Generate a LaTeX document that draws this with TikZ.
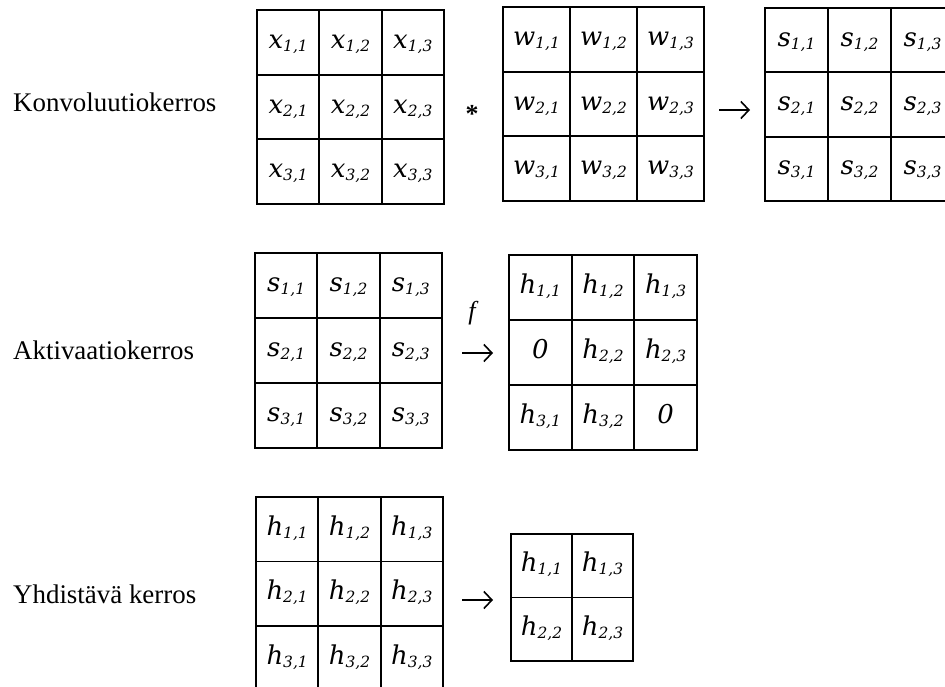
\documentclass[tikz,border=0pt]{standalone}
\usepackage{fontspec}
\setmainfont{Liberation Serif}
\newfontfamily\entryfont{DejaVu Serif}
\usetikzlibrary{arrows.meta}

% matrix entry: italic letter with lowered index pair
\newcommand\entry[3]{{\entryfont\fontsize{26}{26}\selectfont\itshape #1}\raisebox{-3bp}{\entryfont\fontsize{15.5}{15.5}\selectfont\itshape #2,#3}}
\newcommand\zeroentry{{\entryfont\fontsize{26}{26}\selectfont\itshape 0}}

% current grid: name, left, top, cell width, cell height
\newcommand\setgrid[5]{\def\gname{#1}\def\gx{#2}\def\gy{#3}\def\gw{#4}\def\gh{#5}}
\newcommand\cell[3]{\node[cellbox, minimum width=\gw bp, minimum height=\gh bp]
  (\gname-#1-#2) at ({\gx+(#2-0.5)*\gw},{\gy+(#1-0.5)*\gh}) {#3};}

\tikzset{
  cellbox/.style={draw, line width=1.9bp, inner sep=0pt, text height=16bp, text depth=4bp},
  layerlabel/.style={anchor=base west, inner sep=0pt, font=\fontsize{27}{27}\selectfont},
  maparrow/.style={line width=1.6bp, -{Straight Barb[length=8bp,width=17bp,line width=1.6bp]}},
}

\begin{document}
\begin{tikzpicture}[x=1bp,y=-1bp]
\useasboundingbox (0,0) rectangle (945,687);
\clip (0,0) rectangle (945,687);

% layer names
\node[layerlabel] (lconv) at (13,112) {Konvoluutiokerros};
\node[layerlabel] (lact)  at (13,359) {Aktivaatiokerros};
\node[layerlabel] (lpool) at (13,603) {Yhdistävä kerros};

% convolution: input * kernel -> feature map
\setgrid{x}{257}{10}{62.33}{64.67}
\foreach \r in {1,2,3}{\foreach \c in {1,2,3}{\cell{\r}{\c}{\entry{x}{\r}{\c}}}}
\setgrid{w}{503}{7}{67}{64.67}
\foreach \r in {1,2,3}{\foreach \c in {1,2,3}{\cell{\r}{\c}{\entry{w}{\r}{\c}}}}
\setgrid{s}{765}{8}{63}{64.33}
\foreach \r in {1,2,3}{\foreach \c in {1,2,3}{\cell{\r}{\c}{\entry{s}{\r}{\c}}}}

\node[inner sep=0pt, font=\fontsize{26}{26}\selectfont\bfseries] (conv) at (472,114) {*};
\coordinate (a1s) at (719,110);
\coordinate (a1e) at (750,110);
\draw[maparrow] (a1s) -- (a1e);

% activation
\setgrid{sa}{255}{253}{62.33}{65}
\foreach \r in {1,2,3}{\foreach \c in {1,2,3}{\cell{\r}{\c}{\entry{s}{\r}{\c}}}}
\setgrid{ha}{509}{255}{62.67}{65}
\cell{1}{1}{\entry{h}{1}{1}}
\cell{1}{2}{\entry{h}{1}{2}}
\cell{1}{3}{\entry{h}{1}{3}}
\cell{2}{1}{\zeroentry}
\cell{2}{2}{\entry{h}{2}{2}}
\cell{2}{3}{\entry{h}{2}{3}}
\cell{3}{1}{\entry{h}{3}{1}}
\cell{3}{2}{\entry{h}{3}{2}}
\cell{3}{3}{\zeroentry}

\node[inner sep=0pt, font=\fontsize{26}{26}\selectfont\itshape] (fn) at (472,313) {f};
\coordinate (a2s) at (462,353);
\coordinate (a2e) at (493,353);
\draw[maparrow] (a2s) -- (a2e);

% pooling
\setgrid{hp}{256}{497}{62.33}{64.5}
\foreach \r in {1,2,3}{\foreach \c in {1,2,3}{\cell{\r}{\c}{\entry{h}{\r}{\c}}}}
\setgrid{hq}{511}{534}{61}{63.5}
\cell{1}{1}{\entry{h}{1}{1}}
\cell{1}{2}{\entry{h}{1}{3}}
\cell{2}{1}{\entry{h}{2}{2}}
\cell{2}{2}{\entry{h}{2}{3}}

\coordinate (a3s) at (462,600);
\coordinate (a3e) at (493,600);
\draw[maparrow] (a3s) -- (a3e);
\end{tikzpicture}
\end{document}
